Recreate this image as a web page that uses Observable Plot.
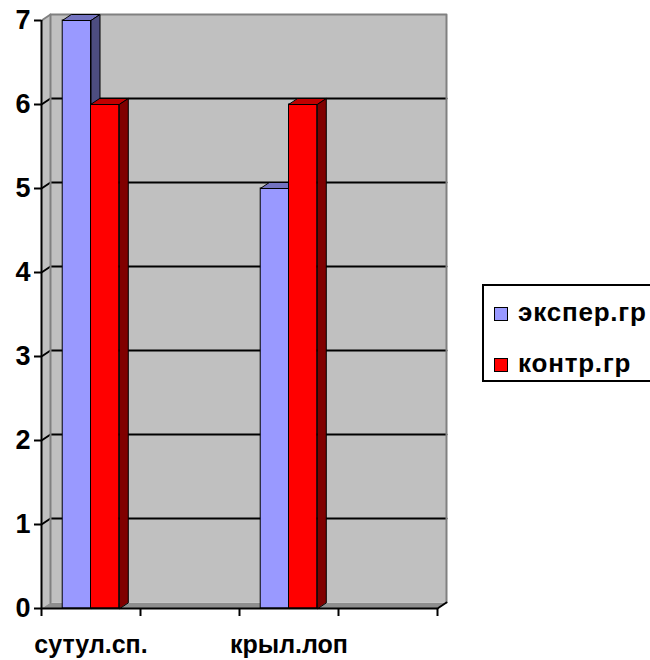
<!DOCTYPE html>
<html><head><meta charset="utf-8">
<script src="https://cdn.jsdelivr.net/npm/d3@7"></script>
<script src="https://cdn.jsdelivr.net/npm/@observablehq/plot@0.6"></script>
<style>
body{margin:0;background:#fff;font-family:"Liberation Sans",Arial,sans-serif;}
#wrap{position:relative;width:650px;height:660px;overflow:hidden}
#legend{position:absolute;left:482px;top:284px;width:180px;height:98px;border:2px solid #000;box-sizing:border-box;background:#fff}
.item{position:absolute;left:10px;font-weight:bold;font-size:26px;line-height:26px;white-space:nowrap;letter-spacing:0.8px}
.sw{display:inline-block;width:12px;height:12px;border:1px solid #000;margin-right:10px;vertical-align:baseline}
</style>
</head><body><div id="wrap"></div>
<script>
const categories = ["сутул.сп.", "", "крыл.лоп", ""];
const seriesNames = ["экспер.гр", "контр.гр"];
const expValues = [7, null, 5, null];
const ctrlValues = [6, null, 6, null];
const yTicks = [0, 1, 2, 3, 4, 5, 6, 7];
const frontColors = ["#9999ff", "#ff0000"];
const topColors = ["#7373c0", "#c00000"];
const sideColors = ["#4d4d80", "#800000"];

const W = 650, H = 660;
const mL = 41, mR = 213, mT = 20, mB = 52;
const nCat = categories.length, yMax = 7;
const DX = 9, DY = 6; // depth in px
const dxu = DX * nCat / (W - mL - mR);
const dyu = DY * yMax / (H - mT - mB);
const barW = 28 / 98;

const seriesValues = [expValues, ctrlValues];
const bars = [];
seriesValues.forEach((vals, s) => {
  vals.forEach((v, i) => {
    if (v == null) return;
    const x1 = i + 0.5 + (s - 1) * barW, x2 = x1 + barW;
    bars.push({s, i, v, x1, x2});
  });
});

function topFace(b) {
  return [[b.x1, b.v], [b.x2, b.v], [b.x2 + dxu, b.v + dyu], [b.x1 + dxu, b.v + dyu]]
    .map(([x, y]) => ({id: `t${b.s}${b.i}`, x, y}));
}
function sideFace(b) {
  return [[b.x2, 0], [b.x2, b.v], [b.x2 + dxu, b.v + dyu], [b.x2 + dxu, dyu]]
    .map(([x, y]) => ({id: `s${b.s}${b.i}`, x, y}));
}

const floor = [[0, 0], [nCat, 0], [nCat + dxu, dyu], [dxu, dyu]].map(([x, y]) => ({x, y}));
const leftWall = [[0, 0], [0, yMax], [dxu, yMax + dyu], [dxu, dyu]].map(([x, y]) => ({x, y}));
const grid = yTicks.filter(v => v > 0 && v < yMax).flatMap(v =>
  [[0, v], [dxu, v + dyu], [nCat + dxu, v + dyu]].map(([x, y]) => ({v, x, y})));

const marks = [
  Plot.rect([0], {x1: dxu, x2: nCat + dxu, y1: dyu, y2: yMax + dyu, fill: "#c0c0c0"}),
  Plot.line(leftWall, {x: "x", y: "y", fill: "#c0c0c0", stroke: "none", curve: "linear-closed"}),
  Plot.line(floor, {x: "x", y: "y", fill: "#8e8e8e", stroke: "none", curve: "linear-closed"}),
  Plot.line(grid, {x: "x", y: "y", z: "v", stroke: "#000", strokeWidth: 2}),
  Plot.line([{x: dxu, y: dyu}, {x: dxu, y: yMax + dyu}, {x: nCat + dxu, y: yMax + dyu}, {x: nCat + dxu, y: dyu}],
    {x: "x", y: "y", stroke: "#808080", strokeWidth: 2}),
  Plot.line([{x: 0, y: yMax}, {x: dxu, y: yMax + dyu}], {x: "x", y: "y", stroke: "#808080", strokeWidth: 2}),
  Plot.line([{x: nCat, y: 0}, {x: nCat + dxu, y: dyu}], {x: "x", y: "y", stroke: "#000", strokeWidth: 2}),
];

[0, 1].forEach(s => {
  const bs = bars.filter(b => b.s === s);
  marks.push(
    Plot.rect(bs, {x1: "x1", x2: "x2", y1: 0, y2: "v", fill: frontColors[s], stroke: "#000", strokeWidth: 1}),
    Plot.line(bs.flatMap(topFace), {x: "x", y: "y", z: "id", fill: topColors[s], stroke: "#000", strokeWidth: 1, curve: "linear-closed"}),
    Plot.line(bs.flatMap(sideFace), {x: "x", y: "y", z: "id", fill: sideColors[s], stroke: "#000", strokeWidth: 1, curve: "linear-closed"})
  );
});

marks.push(
  Plot.ruleX([0], {y1: 0, y2: yMax, stroke: "#000", strokeWidth: 2}),
  Plot.ruleY([0], {x1: 0, x2: nCat, stroke: "#000", strokeWidth: 2}),
  Plot.axisY({ticks: yTicks, tickSize: 7, tickPadding: 4, fontSize: 27, fontWeight: "bold", label: null, strokeWidth: 2, tickFormat: d => String(d)}),
  Plot.axisX({ticks: d3.range(nCat + 1), tickSize: 8, tickFormat: () => "", label: null, strokeWidth: 2}),
  Plot.text(categories.map((c, i) => ({c, i})), {x: d => d.i + 0.5, y: 0, text: "c", dy: 36, fontSize: 25, fontWeight: "bold", fill: "#000", style: {letterSpacing: "0.8px"}})
);

const chart = Plot.plot({
  width: W, height: H,
  marginLeft: mL, marginRight: mR, marginTop: mT, marginBottom: mB,
  x: {domain: [0, nCat]},
  y: {domain: [0, yMax]},
  style: {fontFamily: '"Liberation Sans", Arial, sans-serif', color: "#000", background: "#fff", overflow: "visible"},
  marks
});

const wrap = document.getElementById("wrap");
wrap.appendChild(chart);
const legend = document.createElement("div");
legend.id = "legend";
seriesNames.forEach((name, s) => {
  const it = document.createElement("div");
  it.className = "item";
  it.style.top = (13 + s * 51) + "px";
  const sw = document.createElement("span");
  sw.className = "sw";
  sw.style.background = frontColors[s];
  it.appendChild(sw);
  it.appendChild(document.createTextNode(name));
  legend.appendChild(it);
});
wrap.appendChild(legend);
</script>
</body></html>
